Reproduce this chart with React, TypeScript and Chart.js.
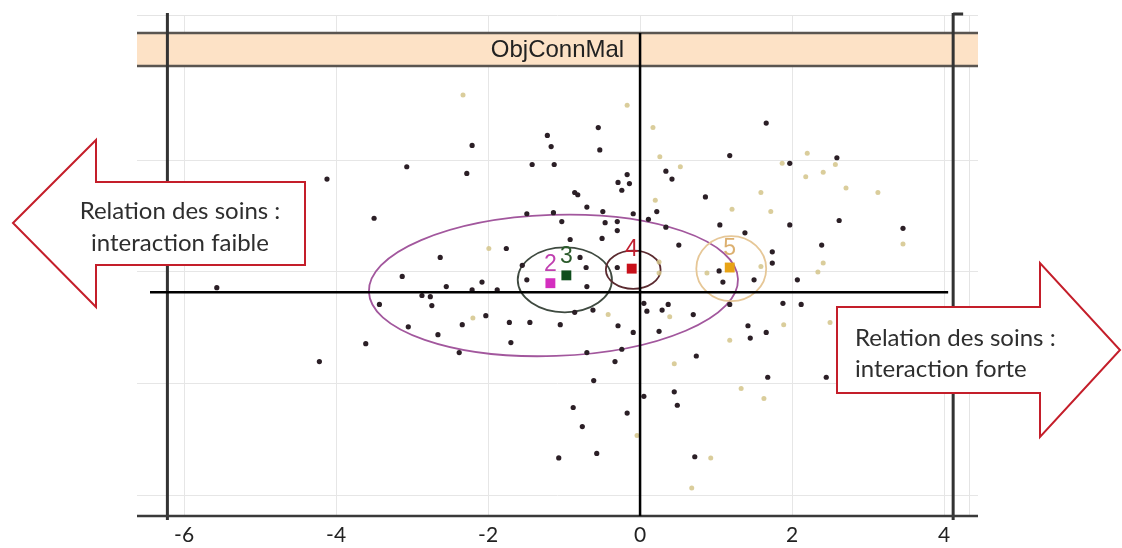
import React, { useEffect, useRef } from "react";
import { Chart, registerables } from "chart.js";

Chart.register(...registerables);

// ---- axis ticks ----
const X_TICKS = [-6, -4, -2, 0, 2, 4];
const Y_TICKS = [-2, -1, 0, 1, 2];
const TITLE = "ObjConnMal";

// ---- individuals (dark points) ----
const DARK_X = [
  -2.21, -1.22, -1.17, -0.55, 1.66, -0.53, -3.07, -2.28, -1.42, -1.13,
  -4.12, -0.86, -0.82, -3.5, -1.49, -1.14, -1.03, -0.92, -0.7, -1.76,
  -2.63, -0.79, -1.55, -0.71, -3.13, -2.08, -1.49, -5.57, -2.55, -2.21,
  -1.88, -2.87, -2.76, -2.74, -3.43, -0.7, -0.86, -2.03, -2.34, -1.72,
  -1.45, -1.05, -1.7, -2.38, -3.05, -2.66, -3.61, -4.22, -0.7, -0.88,
  -1.07, -0.76, -0.61, -0.57, -0.33, -0.24, -0.17, 0.05, 0.45, 0.49,
  0.72, 1.68, 2.45, 0.74, 1.42, 1.45, 1.66, -0.29, -0.09, 0.25,
  0.7, 0.05, 0.09, 0.29, 0.37, -0.62, 1.18, 1.88, 2.12, 2.07,
  1.5, 1.09, 1.04, 1.74, 1.74, 2.39, 0.51, 1.38, 1.05, 1.97,
  2.62, 3.46, 0.34, -0.3, -0.5, -0.3, -0.46, -0.49, -0.09, 0.11,
  0.22, 0.86, -0.17, -0.29, -0.14, -0.24, 0.34, 0.42, 1.18, 1.97,
  2.59, -0.3,
];
const DARK_Y = [
  1.13, 1.22, 1.12, 1.29, 1.33, 1.09, 0.94, 0.88, 0.96, 0.96,
  0.83, 0.71, 0.69, 0.48, 0.52, 0.53, 0.45, 0.29, 0.58, 0.21,
  0.13, 0.13, 0.06, 0.04, -0.04, -0.09, -0.07, -0.14, -0.13, -0.16,
  -0.16, -0.21, -0.22, -0.3, -0.29, -0.13, -0.36, -0.39, -0.47, -0.45,
  -0.45, -0.47, -0.63, -0.72, -0.49, -0.56, -0.64, -0.8, -0.72, -1.21,
  -1.66, -1.38, -0.97, -1.62, -0.8, -0.69, -1.26, -1.11, -1.07, -1.19,
  -1.65, -0.94, -0.94, -0.75, -0.48, -0.59, -0.54, -0.48, -0.54, -0.53,
  -0.38, -0.28, -0.35, -0.34, -0.29, -0.34, -0.29, -0.28, -0.29, -0.07,
  -0.07, -0.09, 0.01, 0.18, 0.08, 0.24, 0.24, 0.35, 0.42, 0.42,
  0.46, 0.39, 0.4, 0.37, 0.3, 0.45, 0.44, 0.54, 0.52, 0.47,
  0.54, 0.67, 0.87, 0.8, 0.79, 0.73, 0.9, 0.83, 1.04, 0.97,
  1.02, 0.04,
];

// ---- individuals (light points) ----
const LIGHT_X = [
  -2.33, -0.17, 0.17, 0.26, 0.53, 1.87, 2.2, 2.57, 2.41, 2.18,
  1.59, 2.71, 3.13, 0.2, 1.21, 1.72, 3.46, 2.41, 0.25, 0.25,
  0.88, 1.59, -1.99, -2.2, -0.42, 0.39, 1.18, 1.89, 2.5, 0.45,
  1.33, 1.63, -0.04, 0.93, 0.68, 2.34,
];
const LIGHT_Y = [
  1.58, 1.49, 1.29, 1.03, 0.94, 0.97, 1.06, 0.96, 0.89, 0.85,
  0.71, 0.75, 0.71, 0.64, 0.56, 0.54, 0.25, 0.08, 0.09, -0.01,
  -0.01, 0.05, 0.21, -0.41, -0.38, -0.4, -0.61, -0.47, -0.45, -0.82,
  -1.04, -1.13, -1.46, -1.66, -1.93, 0.0,
];

// ---- class centroids and concentration ellipses ----
const GROUPS = ["2", "3", "4", "5"];
const CENTROID_X = [-1.18, -0.97, -0.11, 1.18];
const CENTROID_Y = [-0.1, -0.03, 0.03, 0.04];
const ELLIPSE_CX = [-1.14, -0.99, -0.09, 1.2];
const ELLIPSE_CY = [-0.12, -0.07, 0.02, 0.03];
const ELLIPSE_RX = [2.43, 0.62, 0.36, 0.46];
const ELLIPSE_RY = [0.63, 0.29, 0.17, 0.29];

// ---- hand-drawn reference lines ----
const CROSS_X = 0;
const CROSS_Y = -0.18;
const FRAME_X = [-6.22, 4.12];

const LEFT_TEXT = ["Relation des soins :", "interaction faible"];
const RIGHT_TEXT = ["Relation des soins :", "interaction forte"];

// styles
const CENTROID_COLORS = ["#d42fbf", "#0f4d1c", "#c8101a", "#e8a315"];
const LABEL_COLORS = ["#c040b0", "#2a5a2a", "#c02030", "#dcb070"];
const ELLIPSE_COLORS = ["#a2579d", "#3f4a40", "#5b2b30", "#e6c797"];
const ELLIPSE_ROT = [-2, 0, 0, 0];

const overlay = {
  id: "overlay",
  beforeDatasetsDraw(chart: any) {
    const { ctx, chartArea: ca, scales } = chart;
    const x = scales.x;
    const y = scales.y;
    ctx.save();
    // faint panel borders
    ctx.strokeStyle = "#e4e4e4";
    ctx.lineWidth = 1;
    ctx.beginPath();
    ctx.moveTo(ca.left, ca.top + 0.5);
    ctx.lineTo(ca.right, ca.top + 0.5);
    ctx.moveTo(ca.right - 8.5, ca.top);
    ctx.lineTo(ca.right - 8.5, ca.bottom);
    ctx.stroke();
    // ellipses
    ELLIPSE_CX.forEach((cx, i) => {
      const px = x.getPixelForValue(cx);
      const py = y.getPixelForValue(ELLIPSE_CY[i]);
      const rx = x.getPixelForValue(cx + ELLIPSE_RX[i]) - px;
      const ry = py - y.getPixelForValue(ELLIPSE_CY[i] + ELLIPSE_RY[i]);
      ctx.beginPath();
      ctx.ellipse(px, py, rx, ry, (ELLIPSE_ROT[i] * Math.PI) / 180, 0, Math.PI * 2);
      ctx.strokeStyle = ELLIPSE_COLORS[i];
      ctx.lineWidth = 1.8;
      ctx.stroke();
    });
    ctx.restore();
  },
  afterDatasetsDraw(chart: any) {
    const { ctx, chartArea: ca, scales } = chart;
    const x = scales.x;
    const y = scales.y;
    ctx.save();
    // title strip
    const sTop = ca.top + 18;
    const sBot = ca.top + 51;
    ctx.fillStyle = "#fde2c6";
    ctx.fillRect(ca.left, sTop, ca.right - ca.left, sBot - sTop);
    ctx.strokeStyle = "#5a5550";
    ctx.lineWidth = 2.5;
    ctx.beginPath();
    ctx.moveTo(ca.left, sTop);
    ctx.lineTo(ca.right, sTop);
    ctx.moveTo(ca.left, sBot);
    ctx.lineTo(ca.right, sBot);
    ctx.stroke();
    ctx.fillStyle = "#222";
    ctx.font = "24px 'Liberation Sans', Arial, sans-serif";
    ctx.textAlign = "center";
    ctx.textBaseline = "middle";
    ctx.fillText(TITLE, (ca.left + ca.right) / 2, (sTop + sBot) / 2 + 1);

    // frame verticals (drawn over strip)
    ctx.strokeStyle = "#333";
    ctx.lineWidth = 3;
    ctx.beginPath();
    FRAME_X.forEach((v) => {
      const px = x.getPixelForValue(v);
      ctx.moveTo(px, ca.top - 2);
      ctx.lineTo(px, ca.bottom + 4);
    });
    const rx = x.getPixelForValue(FRAME_X[1]);
    ctx.moveTo(rx, ca.top - 1);
    ctx.lineTo(rx + 10, ca.top - 1);
    ctx.stroke();
    // bottom axis line
    ctx.strokeStyle = "#3a3a3a";
    ctx.lineWidth = 2.5;
    ctx.beginPath();
    ctx.moveTo(ca.left, ca.bottom);
    ctx.lineTo(ca.right, ca.bottom);
    ctx.stroke();
    // cross lines
    ctx.strokeStyle = "#000";
    ctx.lineWidth = 2.5;
    ctx.beginPath();
    const zx = x.getPixelForValue(CROSS_X);
    ctx.moveTo(zx, sTop);
    ctx.lineTo(zx, ca.bottom);
    const zy = y.getPixelForValue(CROSS_Y);
    ctx.moveTo(ca.left + 13, zy);
    ctx.lineTo(x.getPixelForValue(FRAME_X[1]) - 5, zy);
    ctx.stroke();

    // centroid labels
    ctx.font = "23px 'Liberation Sans', Arial, sans-serif";
    ctx.textAlign = "center";
    ctx.textBaseline = "middle";
    GROUPS.forEach((g, i) => {
      ctx.fillStyle = LABEL_COLORS[i];
      ctx.fillText(g, x.getPixelForValue(CENTROID_X[i]), y.getPixelForValue(CENTROID_Y[i]) - 19);
    });
    ctx.restore();
  },
  afterDraw(chart: any) {
    const { ctx } = chart;
    ctx.save();
    const drawPoly = (pts: number[][]) => {
      ctx.beginPath();
      pts.forEach((p, i) => (i === 0 ? ctx.moveTo(p[0], p[1]) : ctx.lineTo(p[0], p[1])));
      ctx.closePath();
      ctx.fillStyle = "#ffffff";
      ctx.fill();
      ctx.strokeStyle = "#c41e2a";
      ctx.lineWidth = 2;
      ctx.stroke();
    };
    drawPoly([
      [13, 223], [96, 140], [96, 182], [305, 182], [305, 265], [96, 265], [96, 307],
    ]);
    drawPoly([
      [837, 307], [1040, 307], [1040, 263], [1120, 350], [1040, 437], [1040, 393], [837, 393],
    ]);
    ctx.fillStyle = "#2e2e2e";
    ctx.font = "24px Lato, 'Open Sans', sans-serif";
    ctx.textBaseline = "middle";
    ctx.textAlign = "center";
    ctx.fillText(LEFT_TEXT[0], 180, 211);
    ctx.fillText(LEFT_TEXT[1], 180, 243);
    ctx.textAlign = "left";
    ctx.fillText(RIGHT_TEXT[0], 855, 338);
    ctx.fillText(RIGHT_TEXT[1], 855, 369);
    ctx.restore();
  },
};

export default function App() {
  const ref = useRef<HTMLCanvasElement | null>(null);
  useEffect(() => {
    document.body.style.margin = "0";
    const canvas = ref.current;
    if (!canvas) return;
    const chart = new Chart(canvas, {
      type: "scatter",
      data: {
        datasets: [
          {
            label: "centroids",
            data: CENTROID_X.map((v, i) => ({ x: v, y: CENTROID_Y[i] })),
            pointStyle: "rect",
            pointRadius: 7,
            backgroundColor: CENTROID_COLORS,
            borderColor: CENTROID_COLORS,
            borderWidth: 0,
          },
          {
            label: "dark",
            data: DARK_X.map((v, i) => ({ x: v, y: DARK_Y[i] })),
            pointRadius: 2.6,
            backgroundColor: "#2b1f26",
            borderWidth: 0,
          },
          {
            label: "light",
            data: LIGHT_X.map((v, i) => ({ x: v, y: LIGHT_Y[i] })),
            pointRadius: 2.5,
            backgroundColor: "rgba(212,196,138,0.85)",
            borderWidth: 0,
          },
        ],
      },
      options: {
        responsive: false,
        animation: false,
        events: [],
        layout: { padding: { left: 137, right: 144, top: 15, bottom: 0 } },
        plugins: { legend: { display: false }, tooltip: { enabled: false }, title: { display: false } },
        scales: {
          x: {
            type: "linear",
            min: -6.62,
            max: 4.447,
            afterBuildTicks: (axis: any) => {
              axis.ticks = X_TICKS.map((v) => ({ value: v }));
            },
            afterFit: (axis: any) => {
              axis.height = 32;
            },
            grid: { color: "#e6e6e6", lineWidth: 1, drawTicks: false },
            border: { display: false },
            ticks: {
              padding: 7,
              color: "#222",
              font: { family: "Lato, 'Open Sans', sans-serif", size: 21 },
            },
          },
          y: {
            type: "linear",
            min: -2.179,
            max: 2.295,
            afterBuildTicks: (axis: any) => {
              axis.ticks = Y_TICKS.map((v) => ({ value: v }));
            },
            afterFit: (axis: any) => {
              axis.width = 0;
            },
            grid: { color: "#e6e6e6", lineWidth: 1, drawTicks: false },
            border: { display: false },
            ticks: { display: false },
          },
        },
      },
      plugins: [overlay],
    });
    return () => chart.destroy();
  }, []);
  return (
    <div style={{ width: 1122, height: 548, background: "#fff" }}>
      <canvas ref={ref} width={1122} height={548} />
    </div>
  );
}
